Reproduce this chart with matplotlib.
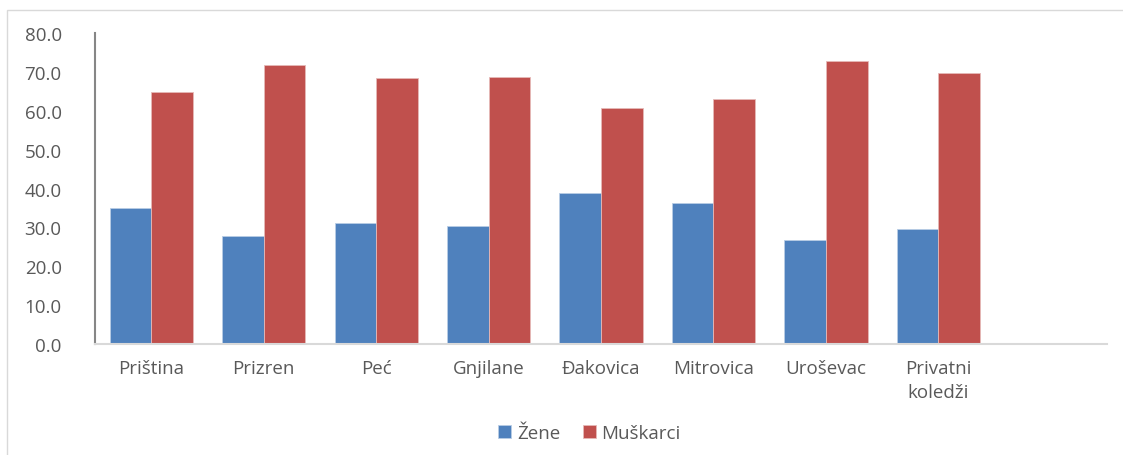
import matplotlib.pyplot as plt
import numpy as np
from matplotlib.patches import Rectangle

categories = ["Priština", "Prizren", "Peć", "Gnjilane", "Đakovica",
              "Mitrovica", "Uroševac", "Privatni\nkoledži", ""]
zene = [34.9, 27.8, 31.1, 30.3, 38.8, 36.3, 26.7, 29.6]
muskarci = [64.8, 71.7, 68.5, 68.8, 60.7, 63.1, 72.9, 69.7]

plt.rcParams['font.family'] = ['Open Sans', 'DejaVu Sans']

fig = plt.figure(figsize=(11.23, 4.56), dpi=100)
ax = fig.add_axes([0.0846, 0.2434, 0.9012, 0.682])

x = np.arange(len(zene))
w = 0.37
ax.bar(x - w / 2, zene, w, color="#4f81bd", label="Žene",
       edgecolor="#b9cde5", linewidth=0.6)
ax.bar(x + w / 2, muskarci, w, color="#c0504d", label="Muškarci",
       edgecolor="#e6b9b8", linewidth=0.6)

ax.set_xlim(-0.5, len(categories) - 0.5)
ax.set_ylim(0, 80)
ax.set_yticks(np.arange(0, 81, 10))
ax.set_yticklabels([f"{v:.1f}" for v in np.arange(0, 81, 10)])
ax.set_xticks(np.arange(len(categories)))
ax.set_xticklabels(categories, linespacing=1.4)
ax.tick_params(axis="both", length=0, labelsize=13.5, colors="#595959")
ax.tick_params(axis="y", pad=24)
ax.tick_params(axis="x", pad=11)

for s in ["top", "right"]:
    ax.spines[s].set_visible(False)
ax.spines["left"].set_color("#868686")
ax.spines["left"].set_linewidth(1.5)
ax.spines["bottom"].set_color("#d9d9d9")
ax.spines["bottom"].set_linewidth(1.5)

leg = fig.legend(loc="center", bbox_to_anchor=(0.525, 0.048), ncol=2,
                 frameon=False, fontsize=13.5, handlelength=0.7,
                 handleheight=0.7, handletextpad=0.3, columnspacing=1.2)
for t in leg.get_texts():
    t.set_color("#595959")

fig.patches.append(Rectangle((0.006, -0.01), 1.2, 0.985, transform=fig.transFigure,
                             fill=False, edgecolor="#d9d9d9", linewidth=1))

fig.savefig("out.png", dpi=100)
